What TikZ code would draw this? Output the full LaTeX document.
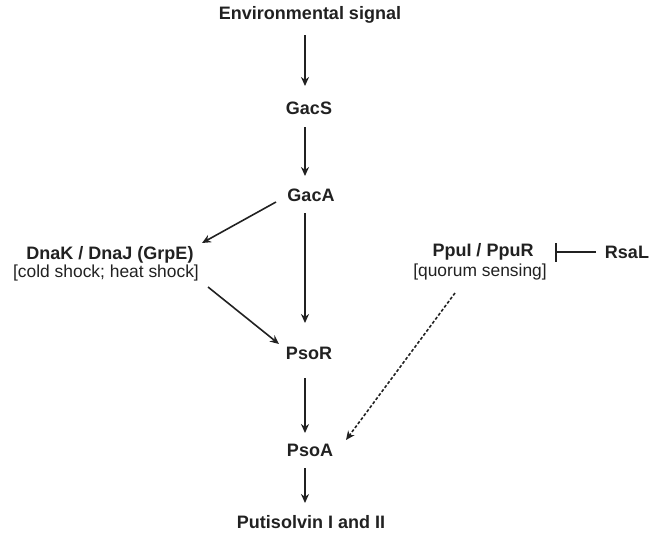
\documentclass[tikz,border=0pt]{standalone}
\usepackage{fontspec}
\setmainfont{Liberation Sans}
\usetikzlibrary{arrows.meta}
\begin{document}
\begin{tikzpicture}[x=1pt,y=-1pt,
  lbl/.style={font=\bfseries\fontsize{18}{20}\selectfont, inner sep=0pt, text=black!87},
  sub/.style={font=\fontsize{17.4}{19}\selectfont, inner sep=0pt, text=black!87},
  arr/.style={-{Stealth[length=9pt,width=8pt]}, line width=1.6pt, draw=black!87}]
\useasboundingbox (0,0) rectangle (649,533);
\node[lbl] (env) at (310,15) {Environmental signal};
\node[lbl] (gacs) at (309,108) {GacS};
\node[lbl] (gaca) at (311,195) {GacA};
\node[lbl] (dnak) at (110,255) {DnaK / DnaJ (GrpE)};
\node[sub] (cold) at (106,273) {[cold shock; heat shock]};
\node[lbl] (ppui) at (483,252) {PpuI / PpuR};
\node[sub] (quorum) at (480,272) {[quorum sensing]};
\node[lbl] (rsal) at (627,252) {RsaL};
\node[lbl] (psor) at (309,353) {PsoR};
\node[lbl] (psoa) at (310,450) {PsoA};
\node[lbl] (puti) at (311,522) {Putisolvin I and II};
\coordinate (a1) at (305,35); \coordinate (a2) at (305,86);
\draw[arr] (a1) -- (a2);
\coordinate (b1) at (305,127); \coordinate (b2) at (305,176);
\draw[arr] (b1) -- (b2);
\coordinate (c1) at (305,213); \coordinate (c2) at (305,323);
\draw[arr] (c1) -- (c2);
\coordinate (d1) at (305,378); \coordinate (d2) at (305,433);
\draw[arr] (d1) -- (d2);
\coordinate (e1) at (305,468); \coordinate (e2) at (305,503);
\draw[arr] (e1) -- (e2);
\coordinate (f1) at (276,202); \coordinate (f2) at (202,243);
\draw[arr] (f1) -- (f2);
\coordinate (g1) at (208,287); \coordinate (g2) at (279,344);
\draw[arr] (g1) -- (g2);
\coordinate (h1) at (455,293); \coordinate (h2) at (346,440);
\draw[arr, dash pattern=on 3pt off 2pt] (h1) -- (h2);
\coordinate (i1) at (596,252); \coordinate (i2) at (555,252);
\draw[line width=1.6pt, draw=black!87, -{Bar[width=19pt]}] (i1) -- (i2);
\end{tikzpicture}
\end{document}
